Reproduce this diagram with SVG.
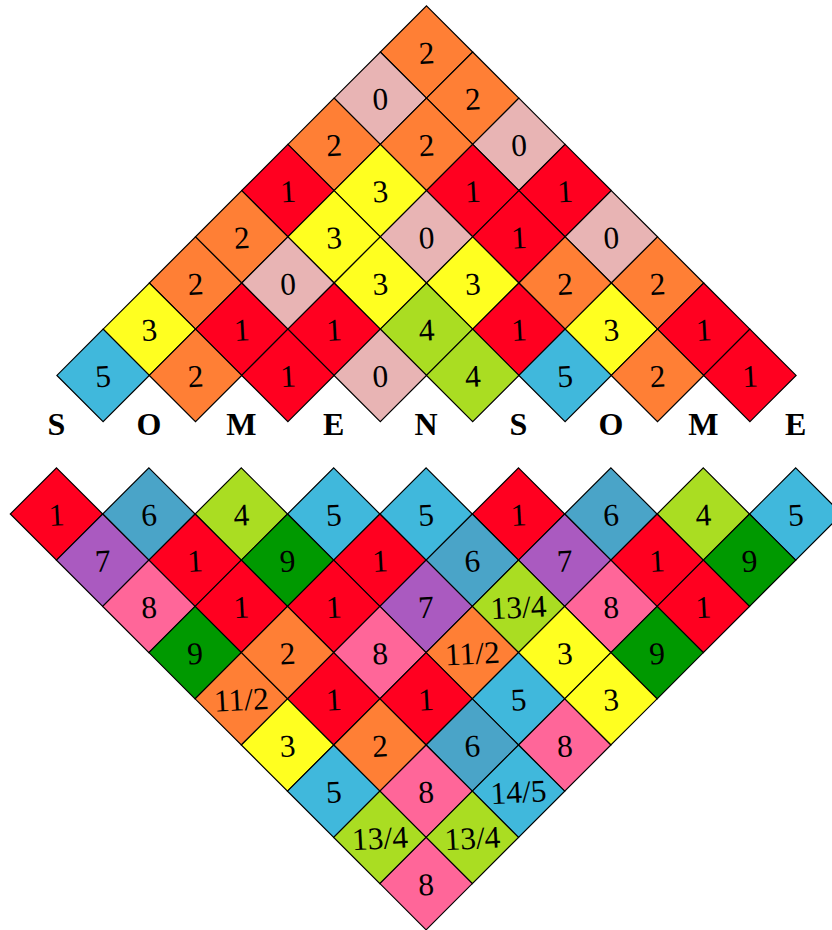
<svg xmlns="http://www.w3.org/2000/svg" xmlns:xlink="http://www.w3.org/1999/xlink" width="832" height="930" viewBox="0 0 832 930">
<style>
.d{stroke:#000;stroke-width:1.2}
.c0{fill:#E8B4B4}.c1{fill:#FF0020}.c2{fill:#FF7F35}.c3{fill:#FFFF20}.c4{fill:#AADD22}
.c5{fill:#40B8DC}.c6{fill:#4AA4C8}.c7{fill:#AA5AC0}.c8{fill:#FF6699}.c9{fill:#009900}
text.n{font-family:"Liberation Serif","Times New Roman",serif;font-size:31.5px;text-anchor:middle;fill:#000}
text.l{font-family:"Liberation Serif","Times New Roman",serif;font-size:32px;font-weight:bold;text-anchor:middle;fill:#000}
</style>
<defs><path id="dm" d="M0,-46.2L46.2,0L0,46.2L-46.2,0Z"/></defs>
<rect width="832" height="930" fill="#fff"/>
<g id="top">
<g id="t0_0"><use xlink:href="#dm" class="d c2" x="426.5" y="52"/><text class="n" x="426.5" y="63.5" transform="rotate(-3 426.5 52)">2</text></g>
<g id="t1_0"><use xlink:href="#dm" class="d c0" x="380.3" y="98.2"/><text class="n" x="380.3" y="109.7" transform="rotate(-3 380.3 98.2)">0</text></g>
<g id="t1_1"><use xlink:href="#dm" class="d c2" x="472.7" y="98.2"/><text class="n" x="472.7" y="109.7" transform="rotate(-3 472.7 98.2)">2</text></g>
<g id="t2_0"><use xlink:href="#dm" class="d c2" x="334.1" y="144.4"/><text class="n" x="334.1" y="155.9" transform="rotate(-3 334.1 144.4)">2</text></g>
<g id="t2_1"><use xlink:href="#dm" class="d c2" x="426.5" y="144.4"/><text class="n" x="426.5" y="155.9" transform="rotate(-3 426.5 144.4)">2</text></g>
<g id="t2_2"><use xlink:href="#dm" class="d c0" x="518.9" y="144.4"/><text class="n" x="518.9" y="155.9" transform="rotate(-3 518.9 144.4)">0</text></g>
<g id="t3_0"><use xlink:href="#dm" class="d c1" x="287.9" y="190.6"/><text class="n" x="287.9" y="202.1" transform="rotate(-3 287.9 190.6)">1</text></g>
<g id="t3_1"><use xlink:href="#dm" class="d c3" x="380.3" y="190.6"/><text class="n" x="380.3" y="202.1" transform="rotate(-3 380.3 190.6)">3</text></g>
<g id="t3_2"><use xlink:href="#dm" class="d c1" x="472.7" y="190.6"/><text class="n" x="472.7" y="202.1" transform="rotate(-3 472.7 190.6)">1</text></g>
<g id="t3_3"><use xlink:href="#dm" class="d c1" x="565.1" y="190.6"/><text class="n" x="565.1" y="202.1" transform="rotate(-3 565.1 190.6)">1</text></g>
<g id="t4_0"><use xlink:href="#dm" class="d c2" x="241.7" y="236.8"/><text class="n" x="241.7" y="248.3" transform="rotate(-3 241.7 236.8)">2</text></g>
<g id="t4_1"><use xlink:href="#dm" class="d c3" x="334.1" y="236.8"/><text class="n" x="334.1" y="248.3" transform="rotate(-3 334.1 236.8)">3</text></g>
<g id="t4_2"><use xlink:href="#dm" class="d c0" x="426.5" y="236.8"/><text class="n" x="426.5" y="248.3" transform="rotate(-3 426.5 236.8)">0</text></g>
<g id="t4_3"><use xlink:href="#dm" class="d c1" x="518.9" y="236.8"/><text class="n" x="518.9" y="248.3" transform="rotate(-3 518.9 236.8)">1</text></g>
<g id="t4_4"><use xlink:href="#dm" class="d c0" x="611.3" y="236.8"/><text class="n" x="611.3" y="248.3" transform="rotate(-3 611.3 236.8)">0</text></g>
<g id="t5_0"><use xlink:href="#dm" class="d c2" x="195.5" y="283"/><text class="n" x="195.5" y="294.5" transform="rotate(-3 195.5 283)">2</text></g>
<g id="t5_1"><use xlink:href="#dm" class="d c0" x="287.9" y="283"/><text class="n" x="287.9" y="294.5" transform="rotate(-3 287.9 283)">0</text></g>
<g id="t5_2"><use xlink:href="#dm" class="d c3" x="380.3" y="283"/><text class="n" x="380.3" y="294.5" transform="rotate(-3 380.3 283)">3</text></g>
<g id="t5_3"><use xlink:href="#dm" class="d c3" x="472.7" y="283"/><text class="n" x="472.7" y="294.5" transform="rotate(-3 472.7 283)">3</text></g>
<g id="t5_4"><use xlink:href="#dm" class="d c2" x="565.1" y="283"/><text class="n" x="565.1" y="294.5" transform="rotate(-3 565.1 283)">2</text></g>
<g id="t5_5"><use xlink:href="#dm" class="d c2" x="657.5" y="283"/><text class="n" x="657.5" y="294.5" transform="rotate(-3 657.5 283)">2</text></g>
<g id="t6_0"><use xlink:href="#dm" class="d c3" x="149.3" y="329.2"/><text class="n" x="149.3" y="340.7" transform="rotate(-3 149.3 329.2)">3</text></g>
<g id="t6_1"><use xlink:href="#dm" class="d c1" x="241.7" y="329.2"/><text class="n" x="241.7" y="340.7" transform="rotate(-3 241.7 329.2)">1</text></g>
<g id="t6_2"><use xlink:href="#dm" class="d c1" x="334.1" y="329.2"/><text class="n" x="334.1" y="340.7" transform="rotate(-3 334.1 329.2)">1</text></g>
<g id="t6_3"><use xlink:href="#dm" class="d c4" x="426.5" y="329.2"/><text class="n" x="426.5" y="340.7" transform="rotate(-3 426.5 329.2)">4</text></g>
<g id="t6_4"><use xlink:href="#dm" class="d c1" x="518.9" y="329.2"/><text class="n" x="518.9" y="340.7" transform="rotate(-3 518.9 329.2)">1</text></g>
<g id="t6_5"><use xlink:href="#dm" class="d c3" x="611.3" y="329.2"/><text class="n" x="611.3" y="340.7" transform="rotate(-3 611.3 329.2)">3</text></g>
<g id="t6_6"><use xlink:href="#dm" class="d c1" x="703.7" y="329.2"/><text class="n" x="703.7" y="340.7" transform="rotate(-3 703.7 329.2)">1</text></g>
<g id="t7_0"><use xlink:href="#dm" class="d c5" x="103.1" y="375.4"/><text class="n" x="103.1" y="386.9" transform="rotate(-3 103.1 375.4)">5</text></g>
<g id="t7_1"><use xlink:href="#dm" class="d c2" x="195.5" y="375.4"/><text class="n" x="195.5" y="386.9" transform="rotate(-3 195.5 375.4)">2</text></g>
<g id="t7_2"><use xlink:href="#dm" class="d c1" x="287.9" y="375.4"/><text class="n" x="287.9" y="386.9" transform="rotate(-3 287.9 375.4)">1</text></g>
<g id="t7_3"><use xlink:href="#dm" class="d c0" x="380.3" y="375.4"/><text class="n" x="380.3" y="386.9" transform="rotate(-3 380.3 375.4)">0</text></g>
<g id="t7_4"><use xlink:href="#dm" class="d c4" x="472.7" y="375.4"/><text class="n" x="472.7" y="386.9" transform="rotate(-3 472.7 375.4)">4</text></g>
<g id="t7_5"><use xlink:href="#dm" class="d c5" x="565.1" y="375.4"/><text class="n" x="565.1" y="386.9" transform="rotate(-3 565.1 375.4)">5</text></g>
<g id="t7_6"><use xlink:href="#dm" class="d c2" x="657.5" y="375.4"/><text class="n" x="657.5" y="386.9" transform="rotate(-3 657.5 375.4)">2</text></g>
<g id="t7_7"><use xlink:href="#dm" class="d c1" x="749.9" y="375.4"/><text class="n" x="749.9" y="386.9" transform="rotate(-3 749.9 375.4)">1</text></g>
</g>
<g id="letters">
<text class="l" x="56.5" y="435">S</text>
<text class="l" x="148.9" y="435">O</text>
<text class="l" x="241.3" y="435">M</text>
<text class="l" x="333.7" y="435">E</text>
<text class="l" x="426.1" y="435">N</text>
<text class="l" x="518.5" y="435">S</text>
<text class="l" x="610.9" y="435">O</text>
<text class="l" x="703.3" y="435">M</text>
<text class="l" x="795.7" y="435">E</text>
</g>
<g id="bottom">
<g id="b0_0"><use xlink:href="#dm" class="d c1" x="56.5" y="514"/><text class="n" x="56.5" y="525.5" transform="rotate(-3 56.5 514)">1</text></g>
<g id="b0_1"><use xlink:href="#dm" class="d c6" x="148.9" y="514"/><text class="n" x="148.9" y="525.5" transform="rotate(-3 148.9 514)">6</text></g>
<g id="b0_2"><use xlink:href="#dm" class="d c4" x="241.3" y="514"/><text class="n" x="241.3" y="525.5" transform="rotate(-3 241.3 514)">4</text></g>
<g id="b0_3"><use xlink:href="#dm" class="d c5" x="333.7" y="514"/><text class="n" x="333.7" y="525.5" transform="rotate(-3 333.7 514)">5</text></g>
<g id="b0_4"><use xlink:href="#dm" class="d c5" x="426.1" y="514"/><text class="n" x="426.1" y="525.5" transform="rotate(-3 426.1 514)">5</text></g>
<g id="b0_5"><use xlink:href="#dm" class="d c1" x="518.5" y="514"/><text class="n" x="518.5" y="525.5" transform="rotate(-3 518.5 514)">1</text></g>
<g id="b0_6"><use xlink:href="#dm" class="d c6" x="610.9" y="514"/><text class="n" x="610.9" y="525.5" transform="rotate(-3 610.9 514)">6</text></g>
<g id="b0_7"><use xlink:href="#dm" class="d c4" x="703.3" y="514"/><text class="n" x="703.3" y="525.5" transform="rotate(-3 703.3 514)">4</text></g>
<g id="b0_8"><use xlink:href="#dm" class="d c5" x="795.7" y="514"/><text class="n" x="795.7" y="525.5" transform="rotate(-3 795.7 514)">5</text></g>
<g id="b1_0"><use xlink:href="#dm" class="d c7" x="102.7" y="560.2"/><text class="n" x="102.7" y="571.7" transform="rotate(-3 102.7 560.2)">7</text></g>
<g id="b1_1"><use xlink:href="#dm" class="d c1" x="195.1" y="560.2"/><text class="n" x="195.1" y="571.7" transform="rotate(-3 195.1 560.2)">1</text></g>
<g id="b1_2"><use xlink:href="#dm" class="d c9" x="287.5" y="560.2"/><text class="n" x="287.5" y="571.7" transform="rotate(-3 287.5 560.2)">9</text></g>
<g id="b1_3"><use xlink:href="#dm" class="d c1" x="379.9" y="560.2"/><text class="n" x="379.9" y="571.7" transform="rotate(-3 379.9 560.2)">1</text></g>
<g id="b1_4"><use xlink:href="#dm" class="d c6" x="472.3" y="560.2"/><text class="n" x="472.3" y="571.7" transform="rotate(-3 472.3 560.2)">6</text></g>
<g id="b1_5"><use xlink:href="#dm" class="d c7" x="564.7" y="560.2"/><text class="n" x="564.7" y="571.7" transform="rotate(-3 564.7 560.2)">7</text></g>
<g id="b1_6"><use xlink:href="#dm" class="d c1" x="657.1" y="560.2"/><text class="n" x="657.1" y="571.7" transform="rotate(-3 657.1 560.2)">1</text></g>
<g id="b1_7"><use xlink:href="#dm" class="d c9" x="749.5" y="560.2"/><text class="n" x="749.5" y="571.7" transform="rotate(-3 749.5 560.2)">9</text></g>
<g id="b2_0"><use xlink:href="#dm" class="d c8" x="148.9" y="606.4"/><text class="n" x="148.9" y="617.9" transform="rotate(-3 148.9 606.4)">8</text></g>
<g id="b2_1"><use xlink:href="#dm" class="d c1" x="241.3" y="606.4"/><text class="n" x="241.3" y="617.9" transform="rotate(-3 241.3 606.4)">1</text></g>
<g id="b2_2"><use xlink:href="#dm" class="d c1" x="333.7" y="606.4"/><text class="n" x="333.7" y="617.9" transform="rotate(-3 333.7 606.4)">1</text></g>
<g id="b2_3"><use xlink:href="#dm" class="d c7" x="426.1" y="606.4"/><text class="n" x="426.1" y="617.9" transform="rotate(-3 426.1 606.4)">7</text></g>
<g id="b2_4"><use xlink:href="#dm" class="d c4" x="518.5" y="606.4"/><text class="n" x="518.5" y="617.9" transform="rotate(-3 518.5 606.4)">13/4</text></g>
<g id="b2_5"><use xlink:href="#dm" class="d c8" x="610.9" y="606.4"/><text class="n" x="610.9" y="617.9" transform="rotate(-3 610.9 606.4)">8</text></g>
<g id="b2_6"><use xlink:href="#dm" class="d c1" x="703.3" y="606.4"/><text class="n" x="703.3" y="617.9" transform="rotate(-3 703.3 606.4)">1</text></g>
<g id="b3_0"><use xlink:href="#dm" class="d c9" x="195.1" y="652.6"/><text class="n" x="195.1" y="664.1" transform="rotate(-3 195.1 652.6)">9</text></g>
<g id="b3_1"><use xlink:href="#dm" class="d c2" x="287.5" y="652.6"/><text class="n" x="287.5" y="664.1" transform="rotate(-3 287.5 652.6)">2</text></g>
<g id="b3_2"><use xlink:href="#dm" class="d c8" x="379.9" y="652.6"/><text class="n" x="379.9" y="664.1" transform="rotate(-3 379.9 652.6)">8</text></g>
<g id="b3_3"><use xlink:href="#dm" class="d c2" x="472.3" y="652.6"/><text class="n" x="472.3" y="664.1" transform="rotate(-3 472.3 652.6)">11/2</text></g>
<g id="b3_4"><use xlink:href="#dm" class="d c3" x="564.7" y="652.6"/><text class="n" x="564.7" y="664.1" transform="rotate(-3 564.7 652.6)">3</text></g>
<g id="b3_5"><use xlink:href="#dm" class="d c9" x="657.1" y="652.6"/><text class="n" x="657.1" y="664.1" transform="rotate(-3 657.1 652.6)">9</text></g>
<g id="b4_0"><use xlink:href="#dm" class="d c2" x="241.3" y="698.8"/><text class="n" x="241.3" y="710.3" transform="rotate(-3 241.3 698.8)">11/2</text></g>
<g id="b4_1"><use xlink:href="#dm" class="d c1" x="333.7" y="698.8"/><text class="n" x="333.7" y="710.3" transform="rotate(-3 333.7 698.8)">1</text></g>
<g id="b4_2"><use xlink:href="#dm" class="d c1" x="426.1" y="698.8"/><text class="n" x="426.1" y="710.3" transform="rotate(-3 426.1 698.8)">1</text></g>
<g id="b4_3"><use xlink:href="#dm" class="d c5" x="518.5" y="698.8"/><text class="n" x="518.5" y="710.3" transform="rotate(-3 518.5 698.8)">5</text></g>
<g id="b4_4"><use xlink:href="#dm" class="d c3" x="610.9" y="698.8"/><text class="n" x="610.9" y="710.3" transform="rotate(-3 610.9 698.8)">3</text></g>
<g id="b5_0"><use xlink:href="#dm" class="d c3" x="287.5" y="745"/><text class="n" x="287.5" y="756.5" transform="rotate(-3 287.5 745)">3</text></g>
<g id="b5_1"><use xlink:href="#dm" class="d c2" x="379.9" y="745"/><text class="n" x="379.9" y="756.5" transform="rotate(-3 379.9 745)">2</text></g>
<g id="b5_2"><use xlink:href="#dm" class="d c6" x="472.3" y="745"/><text class="n" x="472.3" y="756.5" transform="rotate(-3 472.3 745)">6</text></g>
<g id="b5_3"><use xlink:href="#dm" class="d c8" x="564.7" y="745"/><text class="n" x="564.7" y="756.5" transform="rotate(-3 564.7 745)">8</text></g>
<g id="b6_0"><use xlink:href="#dm" class="d c5" x="333.7" y="791.2"/><text class="n" x="333.7" y="802.7" transform="rotate(-3 333.7 791.2)">5</text></g>
<g id="b6_1"><use xlink:href="#dm" class="d c8" x="426.1" y="791.2"/><text class="n" x="426.1" y="802.7" transform="rotate(-3 426.1 791.2)">8</text></g>
<g id="b6_2"><use xlink:href="#dm" class="d c5" x="518.5" y="791.2"/><text class="n" x="518.5" y="802.7" transform="rotate(-3 518.5 791.2)">14/5</text></g>
<g id="b7_0"><use xlink:href="#dm" class="d c4" x="379.9" y="837.4"/><text class="n" x="379.9" y="848.9" transform="rotate(-3 379.9 837.4)">13/4</text></g>
<g id="b7_1"><use xlink:href="#dm" class="d c4" x="472.3" y="837.4"/><text class="n" x="472.3" y="848.9" transform="rotate(-3 472.3 837.4)">13/4</text></g>
<g id="b8_0"><use xlink:href="#dm" class="d c8" x="426.1" y="883.6"/><text class="n" x="426.1" y="895.1" transform="rotate(-3 426.1 883.6)">8</text></g>
</g>
<g id="connectors"/>
</svg>
